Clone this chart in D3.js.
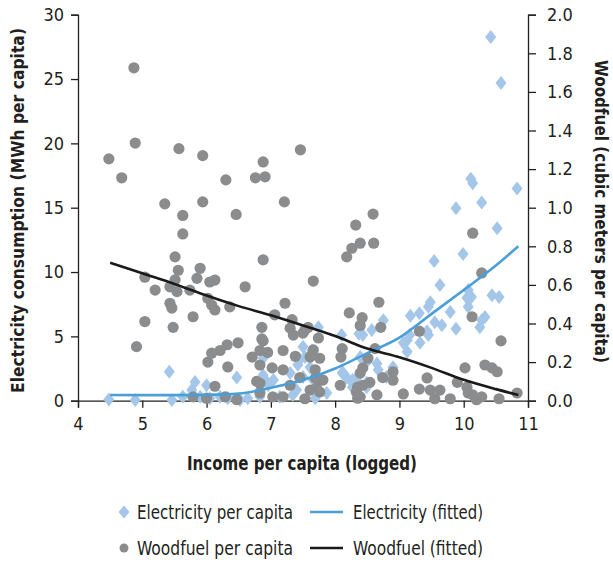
<!DOCTYPE html>
<html>
<head>
<meta charset="utf-8">
<script src="https://cdn.jsdelivr.net/npm/d3@7"></script>
<style>
  html, body { margin: 0; padding: 0; background: #fff; }
  svg { display: block; }
  text { font-family: 'DejaVu Sans Condensed', 'Liberation Sans', sans-serif; fill: #231f20; }
</style>
</head>
<body>
<svg id="chart" width="613" height="562"></svg>
<script>
// ---------- DATA ----------
// Electricity per capita (MWh) vs income per capita (logged)
const elecX = [10.42,10.58,10.11,10.14,10.83,10.28,9.88,10.52,9.99,9.54,9.63,10.07,10.12,10.05,10.07,10.44,10.55,9.48,9.45,9.79,9.17,9.31,9.55,9.66,9.88,10.25,10.33,10.28,9.16,9.45,9.43,9.12,9.06,9.32,9.12,8.75,8.57,8.43,8.10,7.74,7.50,7.45,7.61,8.12,8.18,8.39,8.49,8.65,8.67,8.90,8.27,8.27,8.35,8.80,8.49,8.37,7.64,7.53,7.42,6.88,6.88,7.04,6.94,7.30,7.50,7.66,8.11,8.27,8.49,7.40,7.87,7.34,6.83,5.42,4.89,6.47,5.82,6.00,5.77,5.46,5.63,5.90,6.05,6.21,6.33,6.52,6.64,6.83,4.48,6.96,7.14,7.69];
const elecY = [28.26,24.7,17.25,16.9,16.5,15.4,14.95,13.4,11.4,10.85,9.0,8.6,8.05,8.0,7.3,8.2,8.05,7.66,7.3,6.9,6.6,6.8,6.1,5.86,5.6,5.7,6.5,6.25,5.1,5.1,5.4,4.7,4.5,4.5,3.8,6.25,5.5,5.1,5.1,5.7,4.2,3.2,2.6,2.2,1.8,3.4,3.0,2.9,2.4,2.6,1.05,1.6,1.85,1.85,1.05,5.2,3.9,3.4,2.8,3.3,2.0,1.6,1.45,2.15,1.85,1.6,2.15,1.4,1.4,0.83,0.6,0.45,0.83,2.25,0.05,1.8,1.45,1.2,0.83,0.05,0.3,0.3,0.2,0.3,0.2,0.05,0.2,0.3,0.1,1.2,0.3,0.2];

// Woodfuel per capita (cubic meters) vs income per capita (logged)
const woodX = [4.48,4.68,4.87,4.89,5.57,5.94,5.35,5.63,5.94,6.30,6.46,6.76,6.91,6.88,7.21,7.46,5.63,8.59,8.32,8.26,8.39,8.18,8.60,7.66,10.14,10.28,8.68,8.22,8.42,8.39,8.71,9.31,10.13,10.58,7.53,7.74,7.66,7.61,8.11,8.09,8.51,8.62,8.39,8.43,8.90,8.90,8.74,8.54,8.08,8.43,7.76,7.71,8.33,8.35,8.65,9.06,9.31,9.43,9.48,9.55,9.63,9.79,9.90,10.02,10.05,10.07,10.14,10.20,10.28,10.33,10.44,10.52,10.55,10.83,6.88,7.22,7.06,7.33,6.86,7.30,7.35,7.50,7.58,6.88,6.83,6.95,7.19,7.38,7.64,7.76,6.83,7.02,7.19,7.45,7.69,7.69,7.81,7.30,6.83,6.83,7.03,7.19,7.53,7.61,7.76,8.35,8.39,5.51,5.56,5.90,5.04,5.51,5.85,6.05,6.13,5.20,5.43,5.54,5.74,6.60,6.02,5.43,5.46,6.08,6.13,6.36,5.04,5.79,5.48,4.91,6.49,6.32,6.21,6.08,6.02,6.71,6.33,6.78,6.13,5.79,6.00,6.29,6.47,6.86];
const woodY = [1.253,1.155,1.725,1.335,1.306,1.27,1.02,0.96,1.03,1.144,0.965,1.155,1.16,1.237,1.03,1.30,0.864,0.967,0.91,0.79,0.816,0.745,0.816,0.62,0.868,0.662,0.51,0.455,0.43,0.39,0.38,0.36,0.435,0.31,0.366,0.325,0.263,0.226,0.27,0.226,0.22,0.27,0.143,0.17,0.15,0.106,0.12,0.095,0.08,0.08,0.107,0.065,0.045,0.013,0.03,0.035,0.06,0.118,0.055,0.01,0.055,0.01,0.095,0.17,0.07,0.04,0.03,0.005,0.02,0.185,0.17,0.15,0.01,0.04,0.73,0.505,0.445,0.42,0.38,0.376,0.34,0.35,0.38,0.31,0.26,0.25,0.26,0.23,0.237,0.22,0.185,0.17,0.16,0.12,0.16,0.117,0.107,0.08,0.09,0.04,0.02,0.02,0.01,0.055,0.045,0.07,0.02,0.745,0.676,0.686,0.64,0.626,0.634,0.615,0.625,0.573,0.59,0.565,0.573,0.59,0.53,0.505,0.48,0.495,0.47,0.486,0.41,0.435,0.38,0.28,0.30,0.29,0.26,0.246,0.20,0.226,0.175,0.10,0.075,0.02,0.013,0.02,0.005,0.32];

// Fitted curves
const fitX = [4.5,5,5.5,6,6.5,7,7.5,8,8.5,9,9.5,10,10.5,10.85];
const elecFit = [0.44,0.43,0.43,0.45,0.55,1.0,1.6,2.5,3.7,4.9,6.75,8.6,10.5,12.0];
const woodFit = [0.715,0.66,0.605,0.545,0.49,0.443,0.39,0.335,0.27,0.225,0.17,0.108,0.06,0.03];

// Axis ticks
const xTicks = [4,5,6,7,8,9,10,11];
const yLeftTicks = [0,5,10,15,20,25,30];
const yRightTicks = [0,0.2,0.4,0.6,0.8,1.0,1.2,1.4,1.6,1.8,2.0];

// Labels
const xTitle = "Income per capita (logged)";
const yLeftTitle = "Electricity consumption (MWh per capita)";
const yRightTitle = "Woodfuel (cubic meters per capita)";
const legendItems = ["Electricity per capita","Electricity (fitted)","Woodfuel per capita","Woodfuel (fitted)"];

// ---------- STYLE ----------
const C_DIAMOND = "#a3c6e9";
const C_CIRCLE = "#8b8c8e";
const C_ELEC_LINE = "#4b9fd8";
const C_WOOD_LINE = "#1a1a1a";
const C_AXIS = "#231f20";

const svg = d3.select("#chart");
const L = 78, R = 528, T = 14.7, B = 400.7;

const x = d3.scaleLinear().domain([4, 11]).range([L, R]);
const yL = d3.scaleLinear().domain([0, 30]).range([B, T]);
const yR = d3.scaleLinear().domain([0, 2]).range([B, T]);

// Axes
const axisFont = 18;
const gx = svg.append("g").attr("transform", `translate(0,${B})`)
  .call(d3.axisBottom(x).tickValues(xTicks).tickSize(7).tickPadding(5).tickFormat(d3.format("d")));
const gyl = svg.append("g").attr("transform", `translate(${L},0)`)
  .call(d3.axisLeft(yL).tickValues(yLeftTicks).tickSize(7).tickPadding(7).tickFormat(d3.format("d")));
const gyr = svg.append("g").attr("transform", `translate(${R},0)`)
  .call(d3.axisRight(yR).tickValues(yRightTicks).tickSize(8).tickPadding(11).tickFormat(d3.format(".1f")));
[gx, gyl, gyr].forEach(g => {
  g.select(".domain").attr("stroke", C_AXIS).attr("stroke-width", 1.3);
  g.selectAll(".tick line").attr("stroke", C_AXIS).attr("stroke-width", 1.3);
  g.selectAll(".tick text").attr("font-size", axisFont).attr("fill", "#231f20")
    .style("font-family", "'DejaVu Sans Condensed', sans-serif");
});
gx.selectAll(".tick text").attr("dy", "0.95em");

// Points: diamonds
const elecPts = elecX.map((v, i) => ({ x: v, y: elecY[i] }));
const woodPts = woodX.map((v, i) => ({ x: v, y: woodY[i] }));
const dw = 5.5, dh = 7;
const diamondPath = `M0,${-dh}L${dw},0L0,${dh}L${-dw},0Z`;

svg.append("g").selectAll("path").data(elecPts).join("path")
  .attr("d", diamondPath)
  .attr("transform", d => `translate(${x(d.x)},${yL(d.y)})`)
  .attr("fill", C_DIAMOND);

svg.append("g").selectAll("circle").data(woodPts).join("circle")
  .attr("cx", d => x(d.x)).attr("cy", d => yR(d.y)).attr("r", 5.6)
  .attr("fill", C_CIRCLE);

// Fitted lines
const lineL = d3.line().x((d) => x(d[0])).y(d => yL(d[1])).curve(d3.curveMonotoneX);
const lineR = d3.line().x((d) => x(d[0])).y(d => yR(d[1])).curve(d3.curveMonotoneX);
svg.append("path").attr("d", lineL(fitX.map((v, i) => [v, elecFit[i]])))
  .attr("fill", "none").attr("stroke", C_ELEC_LINE).attr("stroke-width", 2.6);
svg.append("path").attr("d", lineR(fitX.map((v, i) => [v, woodFit[i]])))
  .attr("fill", "none").attr("stroke", C_WOOD_LINE).attr("stroke-width", 2.6);

// Axis titles (condensed to the reference widths)
function fit(sel, len) { return sel.attr("textLength", len).attr("lengthAdjust", "spacingAndGlyphs"); }
fit(svg.append("text").attr("x", 302).attr("y", 470).attr("text-anchor", "middle")
  .attr("font-size", 19).attr("font-weight", "bold").text(xTitle), 230);
fit(svg.append("text").attr("transform", `translate(24,210.5) rotate(-90)`).attr("text-anchor", "middle")
  .attr("font-size", 18).attr("font-weight", "bold").text(yLeftTitle), 365);
fit(svg.append("text").attr("transform", `translate(595,211.5) rotate(90)`).attr("text-anchor", "middle")
  .attr("font-size", 18).attr("font-weight", "bold").text(yRightTitle), 303);

// Legend
const lg = svg.append("g");
const row1 = 512, row2 = 548;
lg.append("path").attr("d", `M0,-6.5L5.5,0L0,6.5L-5.5,0Z`).attr("transform", `translate(124,${row1})`).attr("fill", C_DIAMOND);
fit(lg.append("text").attr("x", 137).attr("y", row1 + 7).attr("font-size", 19).text(legendItems[0]), 156);
lg.append("line").attr("x1", 310).attr("x2", 343).attr("y1", row1).attr("y2", row1).attr("stroke", C_ELEC_LINE).attr("stroke-width", 2.6);
fit(lg.append("text").attr("x", 353).attr("y", row1 + 7).attr("font-size", 19).text(legendItems[1]), 130);
lg.append("circle").attr("cx", 124).attr("cy", row2).attr("r", 4.5).attr("fill", C_CIRCLE);
fit(lg.append("text").attr("x", 137).attr("y", row2 + 7).attr("font-size", 19).text(legendItems[2]), 156);
lg.append("line").attr("x1", 310).attr("x2", 343).attr("y1", row2).attr("y2", row2).attr("stroke", C_WOOD_LINE).attr("stroke-width", 2.6);
fit(lg.append("text").attr("x", 353).attr("y", row2 + 7).attr("font-size", 19).text(legendItems[3]), 130);
</script>
</body>
</html>
